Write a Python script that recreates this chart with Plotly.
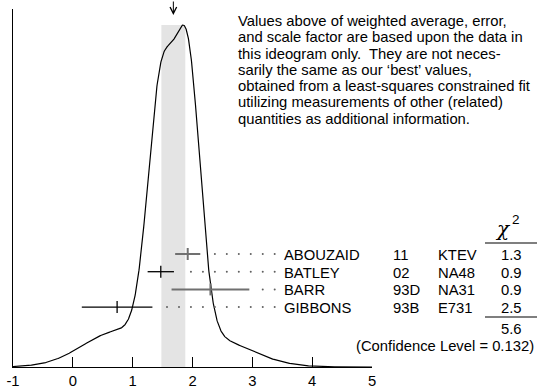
import numpy as np
import plotly.graph_objects as go

# Measurements (units of 1e-3)
authors = ["ABOUZAID", "BATLEY", "BARR", "GIBBONS"]
years = ["11", "02", "93D", "93B"]
experiments = ["KTEV", "NA48", "NA31", "E731"]
values = [1.92, 1.47, 2.30, 0.74]
errors = [0.21, 0.22, 0.65, 0.59]
chi2 = ["1.3", "0.9", "0.9", "2.5"]
chi2_total = "5.6"
conf_level = "(Confidence Level = 0.132)"
bar_colors = ["#707070", "#000000", "#707070", "#000000"]
bar_widths = [2.0, 1.3, 2.0, 1.3]

# Weighted average and (scaled) error
avg = 1.68
avg_err = 0.20

x_ticks = [-1, 0, 1, 2, 3, 4, 5]

note_lines = [
    "Values above of weighted average, error,",
    "and scale factor are based upon the data in",
    "this ideogram only.  They are not neces-",
    "sarily the same as our \u2018best\u2019 values,",
    "obtained from a least-squares constrained fit",
    "utilizing measurements of other (related)",
    "quantities as additional information.",
]

FONT = "Liberation Sans, Arial, Helvetica, sans-serif"
FS = 14.8
W, H = 538, 392
L, R, T, B = 13, 166, 9, 25
PW, PH = W - L - R, H - T - B


def px_x(p):
    return (p - L) / PW


def px_y(p):
    return (H - B - p) / PH


# Ideogram: each measurement is a Gaussian of width sigma with area proportional to 1/sigma
xs = np.linspace(-1, 5, 1201)
vals = np.array(values)
errs = np.array(errors)
curve = np.zeros_like(xs)
for v, e in zip(vals, errs):
    curve += np.exp(-0.5 * ((xs - v) / e) ** 2) / e ** 2
peak = curve.max()
ymax = peak * PH / (PH - 16)

fig = go.Figure()

fig.add_trace(go.Scatter(x=xs, y=curve, mode="lines",
                         line=dict(color="black", width=1.2),
                         hoverinfo="skip", showlegend=False))

# Measurement rows (on a 0..1 overlay axis)
row_top, row_step = 254, 17.7
tick_half = 6 / PH
dot_step = 0.2
dot_start = 1.574
dot_end = 3.38
for i, (v, e) in enumerate(zip(values, errors)):
    yr = px_y(row_top + i * row_step)
    fig.add_trace(go.Scatter(
        x=[v - e, v + e, None, v, v],
        y=[yr, yr, None, yr - tick_half, yr + tick_half],
        mode="lines", yaxis="y2",
        line=dict(color=bar_colors[i], width=bar_widths[i]),
        hoverinfo="skip", showlegend=False))
    dx = [d for d in np.arange(dot_start, dot_end, dot_step) if d >= v + e + 0.15]
    fig.add_trace(go.Scatter(
        x=dx, y=[yr] * len(dx), mode="markers", yaxis="y2",
        marker=dict(size=2, color="#606060"),
        hoverinfo="skip", showlegend=False))

annotations = []
for j, line in enumerate(note_lines):
    annotations.append(dict(
        x=px_x(236), y=px_y(21 + j * 16.25), xref="paper", yref="paper",
        text=line, showarrow=False, xanchor="left", yanchor="middle",
        font=dict(family=FONT, size=FS, color="black")))

for i in range(len(authors)):
    yy = px_y(row_top + 1 + i * row_step)
    for txt, xp, anc in [(authors[i], 282, "left"), (years[i], 391, "left"),
                         (experiments[i], 436, "left"), (chi2[i], 511, "center")]:
        annotations.append(dict(
            x=px_x(xp), y=yy, xref="paper", yref="paper", text=txt,
            showarrow=False, xanchor=anc, yanchor="middle",
            font=dict(family=FONT, size=FS, color="black")))

annotations += [
    dict(x=px_x(502.5), y=px_y(229), xref="paper", yref="paper", text="<i>\u03c7</i>",
         showarrow=False, xanchor="center", yanchor="middle",
         font=dict(family="DejaVu Serif, serif", size=20, color="black")),
    dict(x=px_x(516), y=px_y(219), xref="paper", yref="paper", text="2",
         showarrow=False, xanchor="center", yanchor="middle",
         font=dict(family=FONT, size=13.5, color="black")),
    dict(x=px_x(511), y=px_y(329), xref="paper", yref="paper", text=chi2_total,
         showarrow=False, xanchor="center", yanchor="middle",
         font=dict(family=FONT, size=FS, color="black")),
    dict(x=px_x(536), y=px_y(346), xref="paper", yref="paper", text=conf_level,
         showarrow=False, xanchor="right", yanchor="middle",
         font=dict(family=FONT, size=FS, color="black")),
    # arrow pointing at the weighted average
    dict(x=avg, y=px_y(15), xref="x", yref="paper", text="",
         showarrow=True, ax=0, ay=-16, arrowhead=5, arrowsize=1.3,
         arrowwidth=1, arrowcolor="black"),
]

shapes = [
    dict(type="rect", xref="x", yref="y", x0=avg - avg_err, x1=avg + avg_err,
         y0=0, y1=peak, fillcolor="#e4e4e4", line=dict(width=0), layer="below"),
    dict(type="line", xref="paper", yref="paper", x0=px_x(485), x1=px_x(537),
         y0=px_y(243), y1=px_y(243), line=dict(color="#555555", width=1.5)),
    dict(type="line", xref="paper", yref="paper", x0=px_x(485), x1=px_x(537),
         y0=px_y(317), y1=px_y(317), line=dict(color="#555555", width=1.5)),
]

fig.update_layout(
    width=W, height=H,
    margin=dict(l=L, r=R, t=T, b=B, pad=0),
    paper_bgcolor="white", plot_bgcolor="white",
    showlegend=False,
    font=dict(family=FONT, size=FS, color="black"),
    xaxis=dict(range=[-1, 5], tickvals=x_ticks, ticktext=[str(t) for t in x_ticks],
               ticks="inside", ticklen=10, tickwidth=1, tickcolor="black",
               automargin=False,
               showline=True, linecolor="black", linewidth=1,
               showgrid=False, zeroline=False,
               tickfont=dict(family=FONT, size=FS, color="black")),
    yaxis=dict(range=[0, ymax], showline=True, linecolor="black", linewidth=1,
               automargin=False,
               ticks="", showticklabels=False, showgrid=False, zeroline=False),
    yaxis2=dict(range=[0, 1], overlaying="y", visible=False),
    annotations=annotations,
    shapes=shapes,
)

fig.write_html("out.html")
